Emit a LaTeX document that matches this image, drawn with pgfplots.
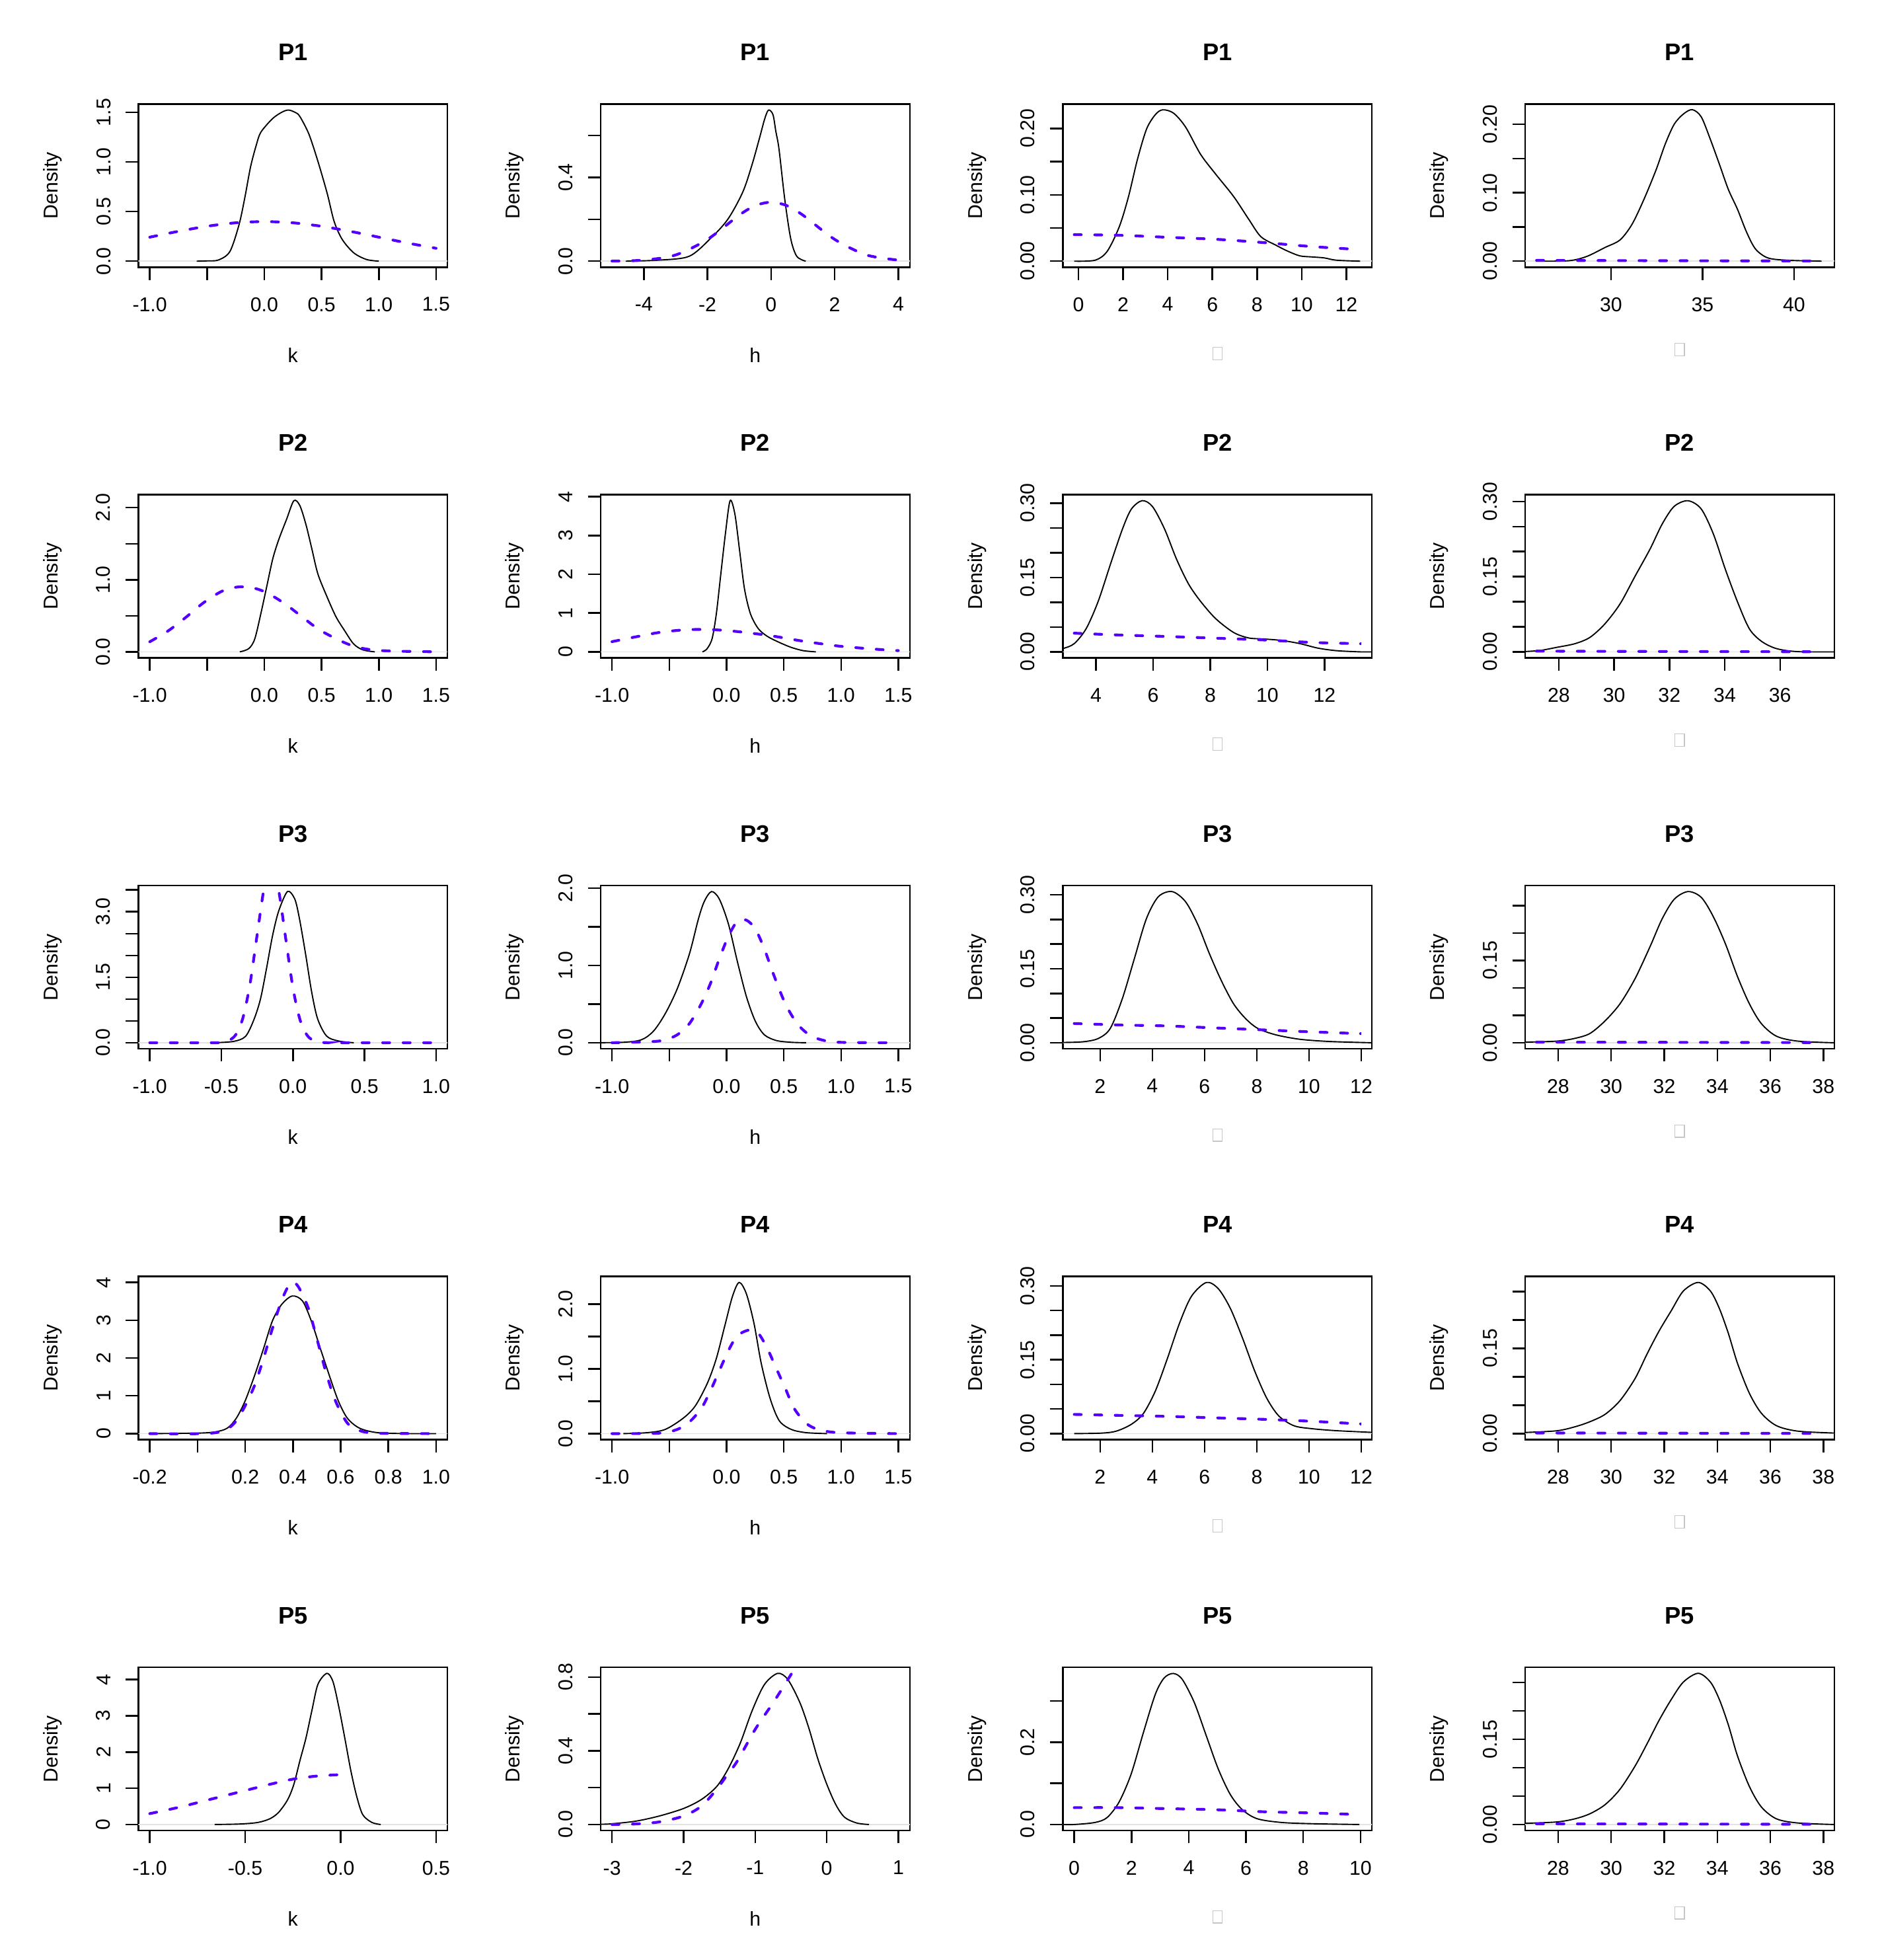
\documentclass[border=0pt]{standalone}
\usepackage{fontspec}
\setmainfont{Liberation Sans}
\usepackage{pgfplots}
\pgfplotsset{compat=1.18}
\definecolor{rblue}{RGB}{85,0,255}
\newcommand{\tofu}{{\setlength{\fboxsep}{0pt}\setlength{\fboxrule}{0.35pt}\fcolorbox{gray!45}{white}{\rule{0pt}{4.6pt}\hspace{3.4pt}}}}
\pgfplotsset{
  rp/.style={
    scale only axis, width=123.7pt, height=65.3pt, anchor=south west,
    axis line style={line width=0.65pt},
    every tick/.style={line width=0.65pt, black},
    tick align=outside, major tick length=5.1pt,
    xtick pos=left, ytick pos=left,
    scaled ticks=false,
    xticklabel style={font=\fontsize{8}{9.6}\selectfont, inner sep=0pt, anchor=north},
    yticklabel style={font=\fontsize{8}{9.6}\selectfont, inner sep=0pt, rotate=90, anchor=south},
    xticklabel shift=6.8pt, yticklabel shift=5.8pt,
    ylabel={Density},
    ylabel style={at={(axis description cs:-0.2773,0.5)}, anchor=center, font=\fontsize{8}{9.6}\selectfont, inner sep=0pt},
    xlabel style={at={(axis description cs:0.5,-0.539)}, anchor=center, font=\fontsize{8}{9.6}\selectfont, inner sep=0pt},
    title style={at={(axis description cs:0.5,1.225)}, anchor=center, font=\fontsize{9.6}{11}\selectfont\bfseries, inner sep=0pt},
  },
  t3/.style={xlabel={\tofu}, xlabel style={at={(axis description cs:0.5,-0.528)}}},
  t4/.style={xlabel={\tofu}, xlabel style={at={(axis description cs:0.5,-0.504)}}},
  bl/.style={black, line width=0.5pt, smooth, no marks},
  bu/.style={rblue, line width=1.1pt, dash pattern=on 2.8pt off 5.4pt, line cap=round, smooth, no marks},
  zl/.style={gray!22, line width=0.4pt, no marks},
}
\begin{document}
\begin{tikzpicture}
\path[use as bounding box] (0,0) rectangle (752pt,784pt);
%================ ROW 1 =================
\begin{axis}[rp, at={(55.32pt,677.1pt)}, title={P1}, xlabel={k},
  xmin=-1.1, xmax=1.6, ymin=-0.061, ymax=1.585,
  xtick={-1,-0.5,0,0.5,1,1.5}, xticklabels={-1.0,,0.0,0.5,1.0,1.5},
  ytick={0,0.5,1,1.5}, yticklabels={0.0,0.5,1.0,1.5}]
\addplot[zl] coordinates {(-1.1,0)(1.6,0)};
\addplot[bl] coordinates {(-0.59,0)(-0.50,0.003)(-0.40,0.012)(-0.30,0.098)(-0.22,0.37)(-0.17,0.64)(-0.12,0.95)(-0.07,1.17)(-0.03,1.30)(0.07,1.435)(0.15,1.50)(0.21,1.524)(0.27,1.50)(0.31,1.46)(0.39,1.28)(0.47,1.00)(0.55,0.68)(0.61,0.40)(0.68,0.22)(0.78,0.085)(0.89,0.018)(1.0,0)};
\addplot[bu] coordinates {(-1,0.242)(-0.75,0.301)(-0.5,0.352)(-0.25,0.387)(0,0.399)(0.25,0.387)(0.5,0.352)(0.75,0.301)(1,0.242)(1.25,0.183)(1.5,0.130)};
\end{axis}
\begin{axis}[rp, at={(240.22pt,677.1pt)}, title={P1}, xlabel={h},
  xmin=-5.36, xmax=4.36, ymin=-0.0289, ymax=0.751,
  xtick={-4,-2,0,2,4}, xticklabels={-4,-2,0,2,4},
  ytick={0,0.2,0.4,0.6}, yticklabels={0.0,,0.4,}]
\addplot[zl] coordinates {(-5.36,0)(4.36,0)};
\addplot[bl] coordinates {(-4.57,0)(-3.53,0.005)(-2.58,0.023)(-1.92,0.106)(-1.36,0.20)(-0.89,0.33)(-0.60,0.46)(-0.36,0.59)(-0.20,0.68)(-0.08,0.722)(0.06,0.70)(0.15,0.62)(0.25,0.535)(0.43,0.296)(0.62,0.106)(0.81,0.023)(1.09,0)};
\addplot[bu] coordinates {(-5,0.0005)(-4,0.0052)(-3,0.0297)(-2,0.104)(-1,0.22)(-0.5,0.265)(0,0.282)(0.5,0.265)(1,0.22)(2,0.104)(3,0.0297)(4,0.0052)};
\end{axis}
\begin{axis}[rp, t3, at={(425.11pt,677.1pt)}, title={P1},
  xmin=-0.703, xmax=13.15, ymin=-0.0091, ymax=0.2368,
  xtick={0,2,4,6,8,10,12}, xticklabels={0,2,4,6,8,10,12},
  ytick={0,0.05,0.1,0.15,0.2}, yticklabels={0.00,,0.10,,0.20}]
\addplot[zl] coordinates {(-0.703,0)(13.15,0)};
\addplot[bl] coordinates {(-0.19,0)(0.75,0.0015)(1.29,0.015)(1.83,0.052)(2.24,0.097)(2.64,0.153)(3.05,0.199)(3.45,0.221)(3.78,0.228)(4.26,0.223)(4.80,0.202)(5.47,0.161)(6.15,0.131)(6.96,0.097)(7.63,0.063)(8.17,0.037)(8.85,0.024)(9.38,0.015)(9.92,0.008)(10.46,0.0064)(11.0,0.005)(11.55,0.0015)(12.62,0)};
\addplot[bu] coordinates {(-0.19,0.040)(1.83,0.039)(3.99,0.036)(6.15,0.033)(8.31,0.028)(10.46,0.022)(12.35,0.018)(12.64,0.0175)};
\end{axis}
\begin{axis}[rp, t4, at={(610.01pt,677.1pt)}, title={P1},
  xmin=25.30, xmax=42.20, ymin=-0.00884, ymax=0.2298,
  xtick={30,35,40}, xticklabels={30,35,40},
  ytick={0,0.05,0.1,0.15,0.2}, yticklabels={0.00,,0.10,,0.20}]
\addplot[zl] coordinates {(25.30,0)(42.20,0)};
\addplot[bl] coordinates {(25.89,0)(27.70,0.0007)(28.68,0.007)(29.67,0.020)(30.49,0.031)(31.15,0.054)(31.81,0.091)(32.47,0.134)(32.96,0.171)(33.45,0.200)(33.95,0.215)(34.44,0.2215)(34.93,0.211)(35.43,0.178)(35.92,0.142)(36.41,0.105)(36.91,0.076)(37.40,0.043)(37.89,0.018)(38.55,0.005)(39.54,0.0015)(41.51,0)};
\addplot[bu] coordinates {(25.93,0.0012)(30,0.0009)(35,0.0006)(41.57,0.0003)};
\end{axis}
%================ ROW 2 =================
\begin{axis}[rp, at={(55.32pt,520.83pt)}, title={P2}, xlabel={k},
  xmin=-1.1, xmax=1.6, ymin=-0.0838, ymax=2.18,
  xtick={-1,-0.5,0,0.5,1,1.5}, xticklabels={-1.0,,0.0,0.5,1.0,1.5},
  ytick={0,0.5,1,1.5,2}, yticklabels={0.0,,1.0,,2.0}]
\addplot[zl] coordinates {(-1.1,0)(1.6,0)};
\addplot[bl] coordinates {(-0.214,0)(-0.135,0.045)(-0.083,0.18)(-0.03,0.53)(0.022,0.91)(0.074,1.29)(0.127,1.56)(0.195,1.84)(0.258,2.096)(0.31,2.03)(0.363,1.77)(0.415,1.43)(0.468,1.08)(0.546,0.77)(0.625,0.49)(0.703,0.29)(0.78,0.11)(0.86,0.028)(0.965,0)};
\addplot[bu] coordinates {(-1.0,0.14)(-0.843,0.287)(-0.686,0.477)(-0.528,0.684)(-0.371,0.84)(-0.24,0.898)(-0.109,0.891)(0.022,0.82)(0.18,0.667)(0.31,0.51)(0.468,0.32)(0.625,0.183)(0.78,0.079)(0.94,0.028)(1.15,0.01)(1.5,0.001)};
\end{axis}
\begin{axis}[rp, at={(240.22pt,520.83pt)}, title={P2}, xlabel={h},
  xmin=-1.1, xmax=1.6, ymin=-0.156, ymax=4.052,
  xtick={-1,-0.5,0,0.5,1,1.5}, xticklabels={-1.0,,0.0,0.5,1.0,1.5},
  ytick={0,1,2,3,4}, yticklabels={0,1,2,3,4}]
\addplot[zl] coordinates {(-1.1,0)(1.6,0)};
\addplot[bl] coordinates {(-0.21,0)(-0.17,0.08)(-0.126,0.34)(-0.089,0.98)(-0.052,1.95)(-0.01,3.04)(0.031,3.896)(0.073,3.55)(0.115,2.59)(0.157,1.62)(0.209,0.98)(0.277,0.60)(0.356,0.40)(0.46,0.244)(0.564,0.116)(0.668,0.032)(0.78,0)};
\addplot[bu] coordinates {(-1.0,0.263)(-0.796,0.385)(-0.587,0.50)(-0.378,0.565)(-0.195,0.578)(-0.01,0.552)(0.199,0.488)(0.408,0.405)(0.668,0.276)(0.982,0.148)(1.296,0.07)(1.5,0.032)};
\end{axis}
\begin{axis}[rp, t3, at={(425.11pt,520.83pt)}, title={P2},
  xmin=2.84, xmax=13.66, ymin=-0.0122, ymax=0.3171,
  xtick={4,6,8,10,12}, xticklabels={4,6,8,10,12},
  ytick={0,0.05,0.1,0.15,0.2,0.25,0.3}, yticklabels={0.00,,,0.15,,,0.30}]
\addplot[zl] coordinates {(2.84,0)(13.66,0)};
\addplot[bl] coordinates {(2.5,0.002)(2.842,0.0065)(3.24,0.0166)(3.66,0.047)(4.08,0.102)(4.51,0.177)(4.93,0.248)(5.24,0.288)(5.62,0.305)(5.98,0.293)(6.40,0.248)(6.82,0.187)(7.24,0.137)(7.66,0.102)(8.19,0.067)(8.82,0.039)(9.35,0.028)(9.87,0.026)(10.5,0.023)(11.14,0.0166)(11.77,0.0075)(12.40,0.0025)(13.24,0)(13.66,0)};
\addplot[bu] coordinates {(3.24,0.0377)(4.82,0.034)(6.51,0.031)(8.19,0.0276)(9.87,0.024)(11.56,0.019)(13.14,0.0166)(13.26,0.0164)};
\end{axis}
\begin{axis}[rp, t4, at={(610.01pt,520.83pt)}, title={P2},
  xmin=26.78, xmax=37.96, ymin=-0.01206, ymax=0.3135,
  xtick={28,30,32,34,36}, xticklabels={28,30,32,34,36},
  ytick={0,0.05,0.1,0.15,0.2,0.25,0.3}, yticklabels={0.00,,,0.15,,,0.30}]
\addplot[zl] coordinates {(26.78,0)(37.96,0)};
\addplot[bl] coordinates {(26.5,0)(27.28,0.0025)(27.93,0.009)(28.59,0.0164)(29.13,0.029)(29.67,0.056)(30.22,0.096)(30.76,0.151)(31.30,0.205)(31.74,0.255)(32.17,0.29)(32.67,0.3014)(33.15,0.285)(33.59,0.235)(34.02,0.165)(34.46,0.10)(34.89,0.046)(35.33,0.021)(35.87,0.0065)(36.63,0.0005)(37.96,0)};
\addplot[bu] coordinates {(27.19,0.0015)(30,0.001)(34,0.0005)(37.55,0.0002)};
\end{axis}
%================ ROW 3 =================
\begin{axis}[rp, at={(55.32pt,364.48pt)}, title={P3}, xlabel={k},
  xmin=-1.08, xmax=1.08, ymin=-0.1385, ymax=3.6,
  xtick={-1,-0.5,0,0.5,1}, xticklabels={-1.0,-0.5,0.0,0.5,1.0},
  ytick={0,0.5,1,1.5,2,2.5,3,3.5}, yticklabels={0.0,,,1.5,,,3.0,}]
\addplot[zl] coordinates {(-1.08,0)(1.08,0)};
\addplot[bl] coordinates {(-0.56,0)(-0.415,0.03)(-0.33,0.15)(-0.27,0.55)(-0.226,1.01)(-0.185,1.69)(-0.143,2.44)(-0.10,3.01)(-0.038,3.463)(0.013,3.29)(0.046,2.835)(0.088,2.04)(0.13,1.18)(0.172,0.553)(0.235,0.154)(0.318,0.04)(0.425,0)};
\addplot[bu] coordinates {(-1,0)(-0.6,0)(-0.5,0.003)(-0.45,0.047)(-0.40,0.18)(-0.35,0.56)(-0.30,1.34)(-0.25,2.47)(-0.20,3.56)(-0.152,4.0)(-0.10,3.49)(-0.05,2.38)(0.0,1.26)(0.05,0.52)(0.10,0.167)(0.15,0.042)(0.20,0.008)(0.25,0.001)(0.3,0)(1.0,0)};
\end{axis}
\begin{axis}[rp, at={(240.22pt,364.48pt)}, title={P3}, xlabel={h},
  xmin=-1.1, xmax=1.6, ymin=-0.0783, ymax=2.035,
  xtick={-1,-0.5,0,0.5,1,1.5}, xticklabels={-1.0,,0.0,0.5,1.0,1.5},
  ytick={0,0.5,1,1.5,2}, yticklabels={0.0,,1.0,,2.0}]
\addplot[zl] coordinates {(-1.1,0)(1.6,0)};
\addplot[bl] coordinates {(-1.2,0)(-0.90,0.006)(-0.743,0.039)(-0.638,0.15)(-0.535,0.377)(-0.43,0.70)(-0.324,1.15)(-0.246,1.60)(-0.194,1.83)(-0.131,1.957)(-0.063,1.86)(0.016,1.54)(0.094,1.055)(0.173,0.60)(0.251,0.28)(0.33,0.103)(0.434,0.029)(0.564,0.006)(0.695,0)};
\addplot[bu] coordinates {(-1.0,0)(-0.64,0.016)(-0.535,0.039)(-0.43,0.103)(-0.324,0.248)(-0.22,0.506)(-0.141,0.765)(-0.063,1.087)(0.016,1.377)(0.094,1.571)(0.173,1.587)(0.251,1.474)(0.33,1.216)(0.408,0.894)(0.513,0.506)(0.617,0.248)(0.721,0.103)(0.826,0.039)(0.98,0.006)(1.5,0)};
\end{axis}
\begin{axis}[rp, t3, at={(425.11pt,364.48pt)}, title={P3},
  xmin=0.572, xmax=12.41, ymin=-0.01226, ymax=0.3187,
  xtick={2,4,6,8,10,12}, xticklabels={2,4,6,8,10,12},
  ytick={0,0.05,0.1,0.15,0.2,0.25,0.3}, yticklabels={0.00,,,0.15,,,0.30}]
\addplot[zl] coordinates {(0.572,0)(12.41,0)};
\addplot[bl] coordinates {(0.3,0)(0.571,0.0005)(1.355,0.002)(1.93,0.0086)(2.39,0.029)(2.85,0.089)(3.31,0.170)(3.77,0.251)(4.23,0.296)(4.76,0.3064)(5.27,0.286)(5.73,0.241)(6.19,0.18)(6.65,0.125)(7.11,0.079)(7.57,0.049)(8.04,0.029)(8.73,0.016)(9.65,0.007)(10.80,0.0025)(12.41,0)};
\addplot[bu] coordinates {(1.01,0.039)(2.74,0.036)(4.58,0.034)(6.42,0.030)(8.27,0.026)(10.11,0.022)(11.84,0.0187)(11.97,0.0185)};
\end{axis}
\begin{axis}[rp, t4, at={(610.01pt,364.48pt)}, title={P3},
  xmin=26.75, xmax=38.41, ymin=-0.011, ymax=0.2868,
  xtick={28,30,32,34,36,38}, xticklabels={28,30,32,34,36,38},
  ytick={0,0.05,0.1,0.15,0.2,0.25}, yticklabels={0.00,,,0.15,,}]
\addplot[zl] coordinates {(26.75,0)(38.41,0)};
\addplot[bl] coordinates {(26.5,0.0005)(26.75,0.001)(27.95,0.003)(28.63,0.008)(29.20,0.017)(29.77,0.04)(30.33,0.071)(30.90,0.117)(31.47,0.176)(31.92,0.226)(32.38,0.262)(32.90,0.2758)(33.40,0.265)(33.85,0.23)(34.31,0.18)(34.76,0.121)(35.21,0.071)(35.66,0.035)(36.23,0.012)(37.03,0.003)(38.41,0)};
\addplot[bu] coordinates {(27.18,0.0012)(32,0.0008)(37.98,0.0003)};
\end{axis}
%================ ROW 4 =================
\begin{axis}[rp, at={(55.32pt,208.13pt)}, title={P4}, xlabel={k},
  xmin=-0.248, xmax=1.048, ymin=-0.16, ymax=4.158,
  xtick={-0.2,0,0.2,0.4,0.6,0.8,1}, xticklabels={-0.2,,0.2,0.4,0.6,0.8,1.0},
  ytick={0,1,2,3,4}, yticklabels={0,1,2,3,4}]
\addplot[zl] coordinates {(-0.248,0)(1.048,0)};
\addplot[bl] coordinates {(-0.2,0)(0.0,0.013)(0.075,0.046)(0.125,0.145)(0.163,0.41)(0.20,0.87)(0.239,1.53)(0.277,2.25)(0.314,2.98)(0.352,3.41)(0.397,3.64)(0.44,3.51)(0.477,2.98)(0.515,2.25)(0.553,1.53)(0.59,0.87)(0.628,0.41)(0.679,0.145)(0.754,0.026)(0.88,0)(1.0,0)};
\addplot[bu] coordinates {(-0.2,0)(0.025,0)(0.113,0.08)(0.163,0.34)(0.20,0.74)(0.239,1.27)(0.277,1.99)(0.314,2.78)(0.352,3.51)(0.385,3.95)(0.405,3.998)(0.427,3.84)(0.465,3.31)(0.503,2.45)(0.54,1.59)(0.578,0.87)(0.628,0.28)(0.679,0.08)(0.754,0.013)(1.0,0)};
\end{axis}
\begin{axis}[rp, at={(240.22pt,208.13pt)}, title={P4}, xlabel={h},
  xmin=-1.1, xmax=1.6, ymin=-0.0934, ymax=2.427,
  xtick={-1,-0.5,0,0.5,1,1.5}, xticklabels={-1.0,,0.0,0.5,1.0,1.5},
  ytick={0,0.5,1,1.5,2}, yticklabels={0.0,,1.0,,2.0}]
\addplot[zl] coordinates {(-1.1,0)(1.6,0)};
\addplot[bl] coordinates {(-0.90,0)(-0.69,0.015)(-0.535,0.065)(-0.377,0.24)(-0.272,0.43)(-0.167,0.78)(-0.089,1.16)(-0.01,1.70)(0.052,2.12)(0.11,2.334)(0.173,2.16)(0.24,1.70)(0.303,1.085)(0.38,0.546)(0.46,0.20)(0.565,0.065)(0.695,0.015)(0.878,0)};
\addplot[bu] coordinates {(-1.0,0)(-0.586,0.008)(-0.43,0.065)(-0.324,0.18)(-0.22,0.39)(-0.141,0.66)(-0.063,0.97)(0.016,1.28)(0.094,1.51)(0.199,1.60)(0.277,1.55)(0.356,1.315)(0.434,1.008)(0.513,0.70)(0.59,0.39)(0.695,0.16)(0.80,0.065)(0.98,0.015)(1.5,0)};
\end{axis}
\begin{axis}[rp, t3, at={(425.11pt,208.13pt)}, title={P4},
  xmin=0.572, xmax=12.41, ymin=-0.0123, ymax=0.3192,
  xtick={2,4,6,8,10,12}, xticklabels={2,4,6,8,10,12},
  ytick={0,0.05,0.1,0.15,0.2,0.25,0.3}, yticklabels={0.00,,,0.15,,,0.30}]
\addplot[zl] coordinates {(0.572,0)(12.41,0)};
\addplot[bl] coordinates {(1.01,0)(2.05,0.001)(2.62,0.005)(3.20,0.019)(3.66,0.041)(4.12,0.087)(4.58,0.153)(5.04,0.224)(5.50,0.279)(6.07,0.3069)(6.53,0.294)(6.99,0.254)(7.46,0.193)(7.92,0.127)(8.38,0.072)(8.84,0.036)(9.42,0.016)(10.11,0.010)(11.03,0.006)(12.41,0.0025)(12.6,0.002)};
\addplot[bu] coordinates {(1.01,0.039)(2.74,0.037)(4.58,0.035)(6.42,0.032)(8.27,0.029)(10.11,0.025)(11.84,0.020)(11.97,0.0197)};
\end{axis}
\begin{axis}[rp, t4, at={(610.01pt,208.13pt)}, title={P4},
  xmin=26.75, xmax=38.41, ymin=-0.01064, ymax=0.2767,
  xtick={28,30,32,34,36,38}, xticklabels={28,30,32,34,36,38},
  ytick={0,0.05,0.1,0.15,0.2,0.25}, yticklabels={0.00,,,0.15,,}]
\addplot[zl] coordinates {(26.75,0)(38.41,0)};
\addplot[bl] coordinates {(26.5,0.0015)(26.75,0.002)(27.95,0.005)(28.63,0.012)(29.20,0.021)(29.77,0.034)(30.33,0.058)(30.90,0.097)(31.36,0.141)(31.81,0.181)(32.26,0.216)(32.72,0.251)(33.28,0.2661)(33.74,0.251)(34.08,0.22)(34.42,0.176)(34.76,0.124)(35.21,0.071)(35.66,0.036)(36.23,0.014)(37.03,0.0044)(38.41,0.001)(38.6,0.001)};
\addplot[bu] coordinates {(27.18,0.0012)(32,0.0008)(37.98,0.0004)};
\end{axis}
%================ ROW 5 =================
\begin{axis}[rp, at={(55.32pt,51.78pt)}, title={P5}, xlabel={k},
  xmin=-1.06, xmax=0.56, ymin=-0.167, ymax=4.339,
  xtick={-1,-0.5,0,0.5}, xticklabels={-1.0,-0.5,0.0,0.5},
  ytick={0,1,2,3,4}, yticklabels={0,1,2,3,4}]
\addplot[zl] coordinates {(-1.06,0)(0.56,0)};
\addplot[bl] coordinates {(-0.66,0)(-0.528,0.014)(-0.434,0.056)(-0.37,0.16)(-0.324,0.34)(-0.277,0.69)(-0.245,1.11)(-0.214,1.75)(-0.182,2.38)(-0.15,3.16)(-0.119,3.87)(-0.072,4.172)(-0.04,3.94)(-0.009,3.23)(0.022,2.38)(0.054,1.47)(0.085,0.76)(0.116,0.27)(0.164,0.056)(0.21,0)};
\addplot[bu] coordinates {(-1.0,0.30)(-0.843,0.48)(-0.686,0.69)(-0.528,0.90)(-0.37,1.11)(-0.245,1.256)(-0.119,1.34)(0.0,1.376)};
\end{axis}
\begin{axis}[rp, at={(240.22pt,51.78pt)}, title={P5}, xlabel={h},
  xmin=-3.16, xmax=1.16, ymin=-0.0328, ymax=0.853,
  xtick={-3,-2,-1,0,1}, xticklabels={-3,-2,-1,0,1},
  ytick={0,0.2,0.4,0.6,0.8}, yticklabels={0.0,,0.4,,0.8}]
\addplot[zl] coordinates {(-3.16,0)(1.16,0)};
\addplot[bl] coordinates {(-3.3,0)(-3.15,0.0014)(-3.0,0.004)(-2.67,0.018)(-2.34,0.046)(-2.0,0.087)(-1.75,0.136)(-1.54,0.205)(-1.38,0.30)(-1.21,0.44)(-1.04,0.62)(-0.87,0.76)(-0.686,0.82)(-0.544,0.787)(-0.377,0.663)(-0.251,0.524)(-0.126,0.358)(0.0,0.219)(0.126,0.108)(0.25,0.039)(0.42,0.008)(0.59,0)};
\addplot[bu] coordinates {(-3.0,0)(-2.67,0.003)(-2.34,0.014)(-2.0,0.046)(-1.75,0.10)(-1.54,0.19)(-1.38,0.275)(-1.25,0.344)(-1.0,0.516)(-0.75,0.66)(-0.62,0.739)(-0.435,0.853)(-0.3,0.93)};
\end{axis}
\begin{axis}[rp, t3, at={(425.11pt,51.78pt)}, title={P5},
  xmin=-0.4, xmax=10.4, ymin=-0.0147, ymax=0.382,
  xtick={0,2,4,6,8,10}, xticklabels={0,2,4,6,8,10},
  ytick={0,0.1,0.2,0.3}, yticklabels={0.0,,0.2,}]
\addplot[zl] coordinates {(-0.4,0)(10.4,0)};
\addplot[bl] coordinates {(-0.4,0)(0,0)(0.73,0.005)(1.15,0.017)(1.57,0.055)(1.99,0.123)(2.41,0.222)(2.83,0.316)(3.14,0.356)(3.46,0.367)(3.77,0.353)(4.19,0.297)(4.61,0.216)(5.03,0.135)(5.45,0.073)(5.87,0.036)(6.39,0.014)(7.23,0.005)(8.28,0.002)(9.96,0)};
\addplot[bu] coordinates {(0,0.041)(1.57,0.041)(3.25,0.0385)(4.93,0.036)(6.60,0.031)(8.28,0.028)(10,0.024)};
\end{axis}
\begin{axis}[rp, t4, at={(610.01pt,51.78pt)}, title={P5},
  xmin=26.75, xmax=38.41, ymin=-0.01066, ymax=0.277,
  xtick={28,30,32,34,36,38}, xticklabels={28,30,32,34,36,38},
  ytick={0,0.05,0.1,0.15,0.2,0.25}, yticklabels={0.00,,,0.15,,}]
\addplot[zl] coordinates {(26.75,0)(38.41,0)};
\addplot[bl] coordinates {(26.5,0.0015)(26.75,0.002)(27.95,0.0045)(28.63,0.010)(29.20,0.019)(29.77,0.035)(30.33,0.062)(30.90,0.103)(31.36,0.143)(31.81,0.184)(32.26,0.22)(32.72,0.251)(33.28,0.2664)(33.74,0.251)(34.08,0.22)(34.42,0.175)(34.76,0.121)(35.21,0.067)(35.66,0.031)(36.23,0.010)(37.03,0.0027)(38.41,0)};
\addplot[bu] coordinates {(27.18,0.0012)(32,0.0008)(37.98,0.0004)};
\end{axis}
\end{tikzpicture}
\end{document}
